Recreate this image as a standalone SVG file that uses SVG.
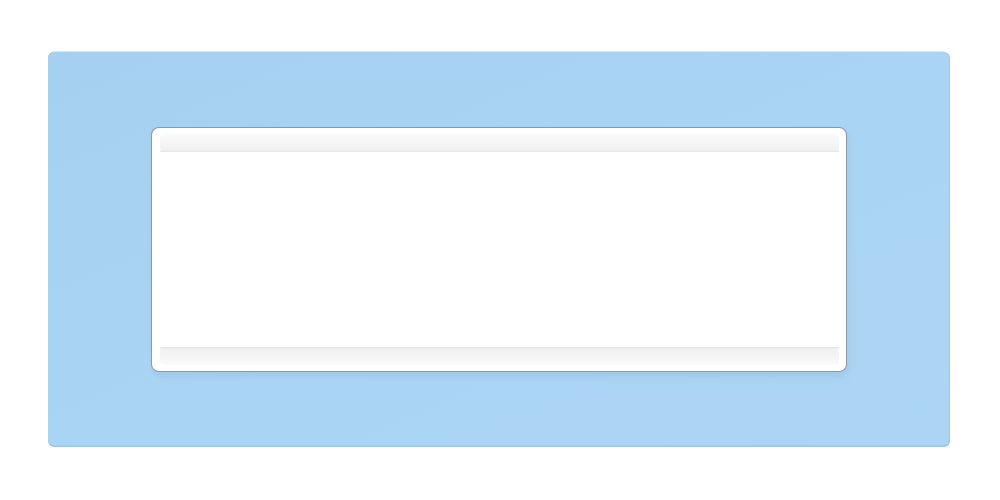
<svg xmlns="http://www.w3.org/2000/svg" width="1000" height="500" viewBox="0 0 1000 500">
  <defs>
    <linearGradient id="plate" x1="0" y1="0" x2="1" y2="1">
      <stop offset="0" stop-color="#a6d0f0"/>
      <stop offset="0.5" stop-color="#aad4f3"/>
      <stop offset="1" stop-color="#acd5f4"/>
    </linearGradient>
    <linearGradient id="stripTop" x1="0" y1="0" x2="0" y2="1">
      <stop offset="0" stop-color="#fafafa"/>
      <stop offset="1" stop-color="#f0f0f0"/>
    </linearGradient>
    <linearGradient id="stripBot" x1="0" y1="0" x2="0" y2="1">
      <stop offset="0" stop-color="#efefef"/>
      <stop offset="1" stop-color="#fafafa"/>
    </linearGradient>
    <filter id="sh" x="-10%" y="-10%" width="120%" height="130%">
      <feGaussianBlur stdDeviation="3"/>
    </filter>
  </defs>
  <rect width="1000" height="500" fill="#ffffff"/>
  <g id="plate-outer">
    <rect x="48" y="52" width="902" height="395" rx="6" fill="#9fc6e4"/>
    <rect x="48" y="51.5" width="901" height="394" rx="6" fill="url(#plate)"/>
  </g>
  <g id="inner-frame">
    <rect x="153" y="131" width="696" height="246" rx="8" fill="#8fb6d4" opacity="0.35" filter="url(#sh)"/>
    <rect x="151" y="127" width="696" height="245" rx="8" fill="#8a9aa8"/>
    <rect x="152" y="128" width="694" height="243" rx="7" fill="#ffffff"/>
    <rect x="160" y="134" width="679" height="18" rx="5" fill="url(#stripTop)"/>
    <rect x="160" y="150.5" width="679" height="1.5" fill="#e8e8e8"/>
    <rect x="160" y="347" width="679" height="18" rx="5" fill="url(#stripBot)"/>
    <rect x="160" y="347" width="679" height="1.5" fill="#e6e6e6"/>
    <rect x="166" y="152" width="667" height="195" fill="#ffffff"/>
  </g>
</svg>
